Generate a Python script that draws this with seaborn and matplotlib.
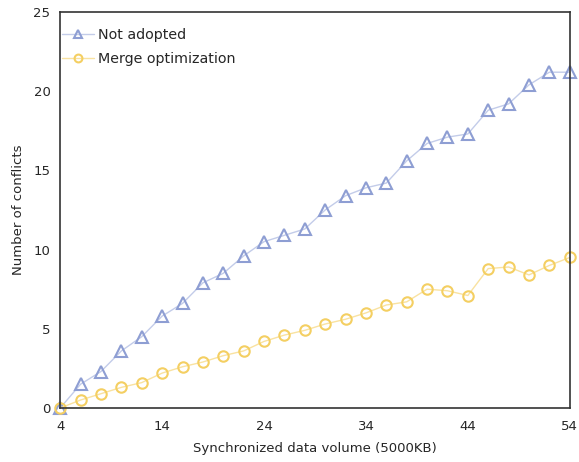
import numpy as np
import pandas as pd
import matplotlib
matplotlib.use('Agg')
import matplotlib.pyplot as plt
import seaborn as sns

volumen = list(range(4, 56, 2))
no_adoptado = [0, 1.5, 2.3, 3.6, 4.5, 5.8, 6.6, 7.9, 8.5, 9.6, 10.5, 10.9, 11.3,
               12.5, 13.4, 13.9, 14.2, 15.6, 16.7, 17.1, 17.3, 18.8, 19.2, 20.4, 21.2, 21.2]
fusion = [0, 0.5, 0.9, 1.3, 1.6, 2.2, 2.6, 2.9, 3.3, 3.6, 4.2, 4.6, 4.9,
          5.3, 5.6, 6.0, 6.5, 6.7, 7.5, 7.4, 7.1, 8.8, 8.9, 8.4, 9.0, 9.5]

df = pd.DataFrame({'volumen': volumen, 'no_adoptado': no_adoptado, 'fusion': fusion})

sns.set_style('white')
plt.rcParams['font.family'] = ['DejaVu Sans']

fig = plt.figure(figsize=(5.79, 4.62), dpi=100)
ax = fig.add_axes([0.104, 0.117, 0.880, 0.857])

sns.lineplot(data=df, x='volumen', y='no_adoptado', ax=ax, color='#c3cce9', lw=1,
             marker='^', markersize=8, markerfacecolor='none',
             markeredgecolor='#8e9ed3', markeredgewidth=1.5, clip_on=False,
             label='Not adopted')
sns.lineplot(data=df, x='volumen', y='fusion', ax=ax, color='#f9e2a0', lw=1,
             marker='o', markersize=7.5, markerfacecolor='none',
             markeredgecolor='#f4cf62', markeredgewidth=1.5, clip_on=False,
             label='Merge optimization')

ax.set_xlim(4, 54)
ax.set_ylim(0, 25)
ax.set_xticks([4, 14, 24, 34, 44, 54])
ax.set_yticks([0, 5, 10, 15, 20, 25])
ax.tick_params(direction='in', length=4, width=1, labelsize=9.5, color='#333333')
ax.tick_params(axis='x', pad=8.5)
ax.tick_params(axis='y', pad=7)
for s in ax.spines.values():
    s.set_color('#333333')
    s.set_linewidth(1.2)

ax.set_xlabel('Synchronized data volume (5000KB)', fontsize=9.5, labelpad=7)
ax.set_ylabel('Number of conflicts', fontsize=9.5, labelpad=6)
ax.legend(loc='upper left', bbox_to_anchor=(-0.002, 0.967), frameon=False,
          fontsize=10.3, handlelength=2.2, handletextpad=0.3, borderaxespad=0,
          borderpad=0.2, labelspacing=0.7, markerscale=0.75)

fig.savefig('out.png', dpi=100)
